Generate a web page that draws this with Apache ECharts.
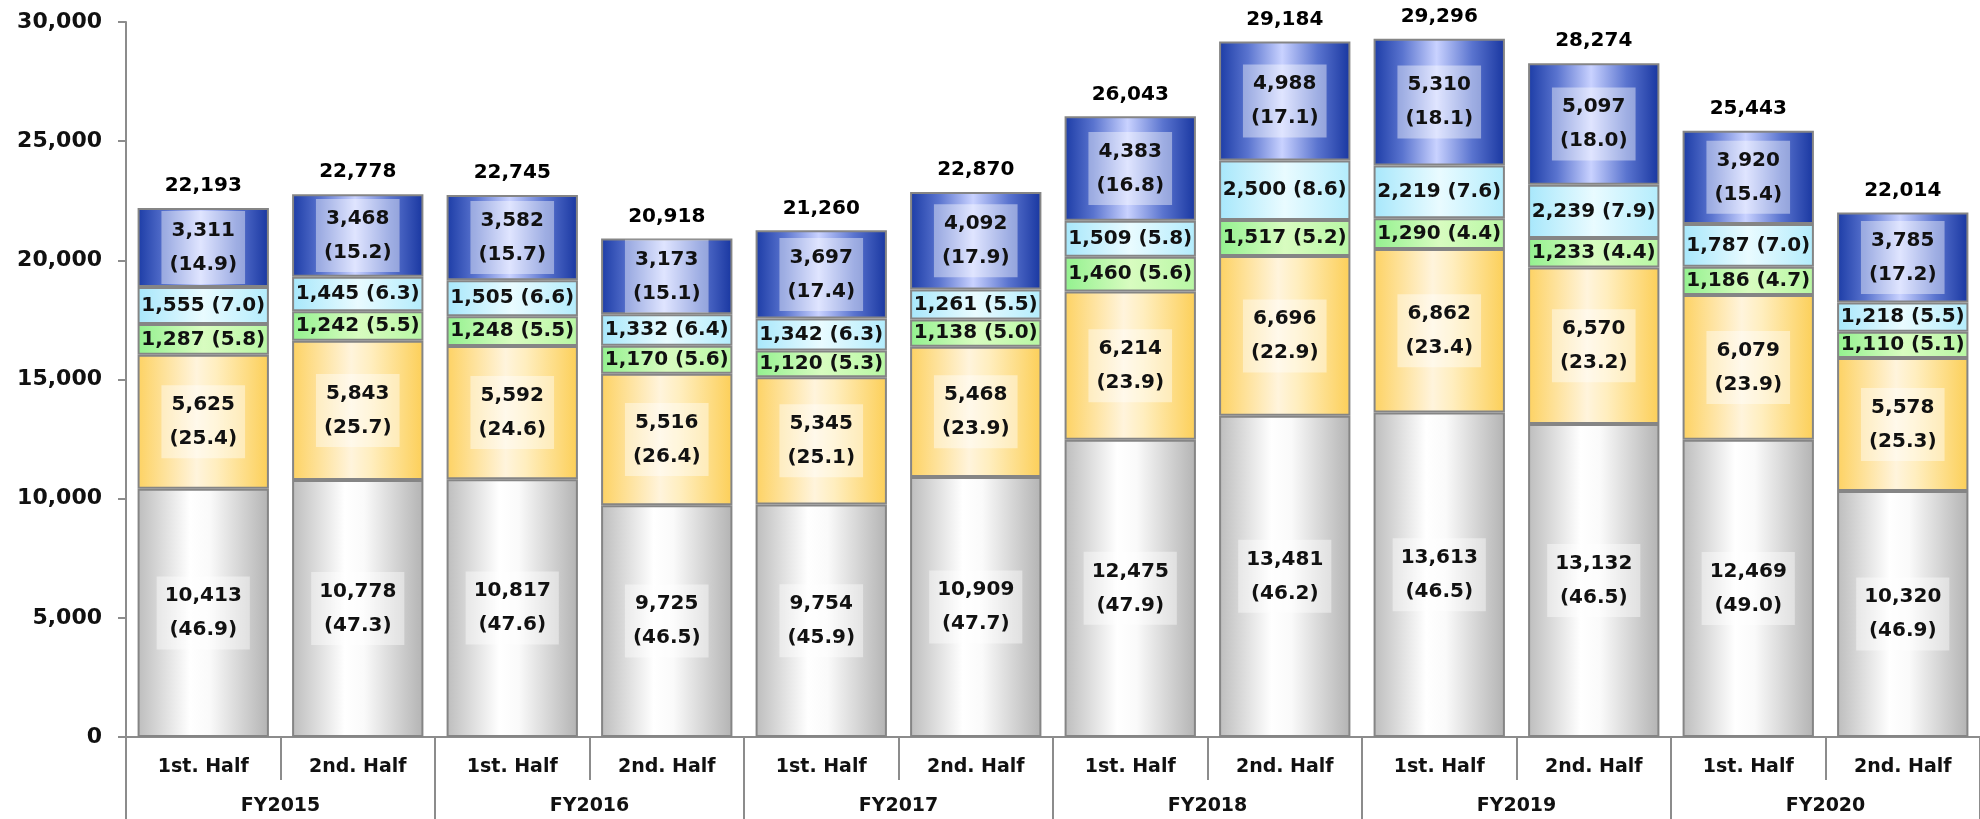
<!DOCTYPE html>
<html>
<head>
<meta charset="utf-8">
<script src="https://cdn.jsdelivr.net/npm/echarts@6/dist/echarts.min.js"></script>
<style>
  html, body { margin: 0; padding: 0; background: #ffffff; }
  #chart { width: 1980px; height: 819px; }
</style>
</head>
<body>
<div id="chart"></div>
<script>
// Half-year categories and fiscal-year groups
const halves = ['1st. Half', '2nd. Half', '1st. Half', '2nd. Half', '1st. Half', '2nd. Half',
                '1st. Half', '2nd. Half', '1st. Half', '2nd. Half', '1st. Half', '2nd. Half'];
const fiscalYears = ['FY2015', 'FY2016', 'FY2017', 'FY2018', 'FY2019', 'FY2020'];

// Segment values (bottom to top) and their shares in percent
const grayVals   = [10413, 10778, 10817, 9725, 9754, 10909, 12475, 13481, 13613, 13132, 12469, 10320];
const grayPct    = [46.9, 47.3, 47.6, 46.5, 45.9, 47.7, 47.9, 46.2, 46.5, 46.5, 49.0, 46.9];
const orangeVals = [5625, 5843, 5592, 5516, 5345, 5468, 6214, 6696, 6862, 6570, 6079, 5578];
const orangePct  = [25.4, 25.7, 24.6, 26.4, 25.1, 23.9, 23.9, 22.9, 23.4, 23.2, 23.9, 25.3];
const greenVals  = [1287, 1242, 1248, 1170, 1120, 1138, 1460, 1517, 1290, 1233, 1186, 1110];
const greenPct   = [5.8, 5.5, 5.5, 5.6, 5.3, 5.0, 5.6, 5.2, 4.4, 4.4, 4.7, 5.1];
const cyanVals   = [1555, 1445, 1505, 1332, 1342, 1261, 1509, 2500, 2219, 2239, 1787, 1218];
const cyanPct    = [7.0, 6.3, 6.6, 6.4, 6.3, 5.5, 5.8, 8.6, 7.6, 7.9, 7.0, 5.5];
const blueVals   = [3311, 3468, 3582, 3173, 3697, 4092, 4383, 4988, 5310, 5097, 3920, 3785];
const bluePct    = [14.9, 15.2, 15.7, 15.1, 17.4, 17.9, 16.8, 17.1, 18.1, 18.0, 15.4, 17.2];
const totals     = [22193, 22778, 22745, 20918, 21260, 22870, 26043, 29184, 29296, 28274, 25443, 22014];

const yTicks = { min: 0, max: 30000, interval: 5000 };

const FONT = '"DejaVu Sans", Verdana, sans-serif';
const fmt = v => Number(v).toLocaleString('en-US');
const pctFmt = p => p.toFixed(1);

function hGrad(stops) {
  return {
    type: 'linear', x: 0, y: 0, x2: 1, y2: 0,
    colorStops: stops.map(([o, c]) => ({ offset: o, color: c }))
  };
}

const BORDER = '#858585';

function stackSeries(name, vals, pcts, grad, twoLine) {
  return {
    name: name,
    type: 'bar',
    stack: 'total',
    barCategoryGap: '15%',
    data: vals,
    itemStyle: { color: grad, borderColor: BORDER, borderWidth: 2 },
    label: {
      show: true,
      position: 'inside',
      fontFamily: FONT,
      fontWeight: 'bold',
      fontSize: 20,
      color: '#111111',
      lineHeight: twoLine ? 34 : 22,
      backgroundColor: twoLine ? 'rgba(255,255,255,0.42)' : 'transparent',
      padding: twoLine ? [3, 8, 2, 8] : 0,
      formatter: p => twoLine
        ? fmt(vals[p.dataIndex]) + '\n(' + pctFmt(pcts[p.dataIndex]) + ')'
        : fmt(vals[p.dataIndex]) + ' (' + pctFmt(pcts[p.dataIndex]) + ')'
    },
    emphasis: { disabled: true }
  };
}

const chart = echarts.init(document.getElementById('chart'), null, { renderer: 'canvas' });

chart.setOption({
  animation: false,
  backgroundColor: '#ffffff',
  grid: { left: 126, top: 22, bottom: 82, right: -12, containLabel: false },
  xAxis: [
    {
      type: 'category',
      data: halves,
      position: 'bottom',
      axisLine: { show: true, lineStyle: { color: '#8c8c8c', width: 2 } },
      axisTick: { show: true, interval: 0, length: 43, lineStyle: { color: '#8c8c8c', width: 2 } },
      axisLabel: {
        interval: 0, margin: 21,
        fontFamily: FONT, fontWeight: 'bold', fontSize: 19, color: '#111111'
      }
    },
    {
      type: 'category',
      data: fiscalYears,
      position: 'bottom',
      axisLine: { show: false },
      axisTick: { show: true, interval: 0, length: 82, lineStyle: { color: '#8c8c8c', width: 2 } },
      axisLabel: {
        interval: 0, margin: 60,
        fontFamily: FONT, fontWeight: 'bold', fontSize: 19, color: '#111111'
      }
    }
  ],
  yAxis: {
    type: 'value',
    min: yTicks.min,
    max: yTicks.max,
    interval: yTicks.interval,
    splitLine: { show: false },
    axisLine: { show: true, lineStyle: { color: '#8c8c8c', width: 2 } },
    axisTick: { show: true, length: 8, lineStyle: { color: '#8c8c8c', width: 2 } },
    axisLabel: {
      margin: 24,
      fontFamily: FONT, fontWeight: 'bold', fontSize: 22, color: '#111111',
      formatter: v => fmt(v)
    }
  },
  series: [
    stackSeries('gray', grayVals, grayPct,
      hGrad([[0, '#bdbdbd'], [0.4, '#ffffff'], [0.55, '#fafafa'], [1, '#b3b3b3']]), true),
    stackSeries('orange', orangeVals, orangePct,
      hGrad([[0, '#fdd263'], [0.45, '#fff4dc'], [0.6, '#ffeebf'], [1, '#fccf58']]), true),
    stackSeries('green', greenVals, greenPct,
      hGrad([[0, '#93f18f'], [0.5, '#d8fcc0'], [1, '#b8f7a4']]), false),
    stackSeries('cyan', cyanVals, cyanPct,
      hGrad([[0, '#a7e7fb'], [0.5, '#e9fbff'], [1, '#b3ecfc']]), false),
    stackSeries('blue', blueVals, bluePct,
      hGrad([[0, '#1c3ca6'], [0.22, '#5a74cf'], [0.48, '#c9d2ff'], [0.75, '#5a74cf'], [1, '#1836a0']]), true),
    {
      // totals printed above each stack
      name: 'total',
      type: 'scatter',
      data: totals,
      symbol: 'rect',
      symbolSize: [0, 0],
      itemStyle: { color: '#000000', opacity: 1 },
      label: {
        show: true,
        position: 'top',
        distance: 12,
        fontFamily: FONT, fontWeight: 'bold', fontSize: 20, color: '#000000',
        formatter: p => fmt(p.value)
      },
      emphasis: { disabled: true },
      z: 5
    }
  ]
});
</script>
</body>
</html>
